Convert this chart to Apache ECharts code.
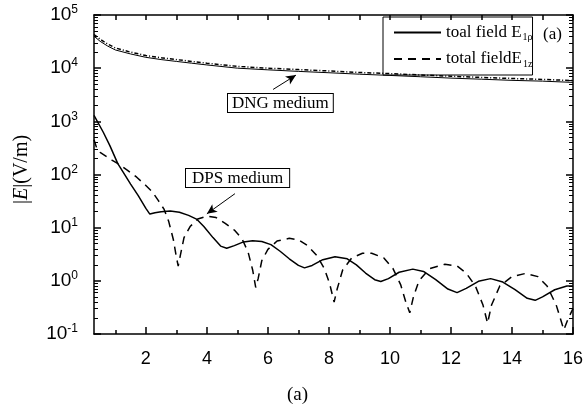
<!DOCTYPE html>
<html>
<head>
<meta charset="utf-8">
<script src="https://cdn.jsdelivr.net/npm/echarts@6/dist/echarts.min.js"></script>
<style>
html,body{margin:0;padding:0;background:#fff;}
#c{width:587px;height:409px;}
</style>
</head>
<body>
<div id="c"></div>
<script>
// ---- data ----
const dpsSolidX = [0.3,0.6,0.82,1.08,1.25,1.5,1.75,2.0,2.13,2.3,2.5,2.8,3.1,3.4,3.66,3.9,4.2,4.45,4.65,4.9,5.2,5.5,5.8,6.1,6.4,6.7,7.0,7.2,7.45,7.8,8.2,8.6,8.9,9.2,9.5,9.7,9.95,10.3,10.75,11.1,11.5,11.9,12.2,12.5,12.9,13.3,13.7,14.1,14.5,14.76,15.0,15.4,15.8,16.0];
const dpsSolidY = [1300,630,350,160,112,66,40,23,18,19,20,20.5,19.5,17,14.5,10.5,6.5,4.5,4.1,4.6,5.4,5.7,5.5,4.8,3.6,2.6,1.95,1.75,1.95,2.5,2.85,2.6,2.0,1.4,1.05,0.97,1.1,1.45,1.66,1.5,1.05,0.7,0.6,0.72,0.98,1.1,0.95,0.68,0.47,0.43,0.5,0.68,0.8,0.8];

const dpsDashX = [0.3,0.4,0.5,0.7,0.9,1.1,1.4,1.7,2.0,2.2,2.4,2.6,2.75,2.9,3.0,3.06,3.13,3.25,3.45,3.7,4.0,4.3,4.6,4.9,5.15,5.35,5.5,5.6,5.68,5.8,6.0,6.3,6.7,7.0,7.3,7.6,7.85,8.02,8.17,8.27,8.45,8.75,9.1,9.4,9.8,10.1,10.35,10.52,10.65,10.77,10.95,11.3,11.8,12.2,12.5,12.8,13.05,13.2,13.33,13.6,14.0,14.45,14.85,15.15,15.45,15.7,15.85,16.0];
const dpsDashY = [450,300,260,220,185,158,120,89,62,48,33,22,13,6,2.8,1.9,3,6.5,10.5,14.5,16.5,15.5,12,9,6.2,3.5,1.6,0.75,1.1,2.4,3.9,5.6,6.3,5.9,4.6,3.0,1.7,0.9,0.4,0.7,1.6,2.7,3.3,3.3,2.7,1.7,0.85,0.4,0.25,0.5,1.0,1.7,2.05,1.9,1.4,0.8,0.35,0.16,0.35,0.8,1.2,1.38,1.2,0.8,0.35,0.12,0.2,0.3];

const dngX = [0.3,0.5,0.75,1.0,1.5,2.0,2.5,3.0,3.5,4.0,5.0,6.0,7.0,8.0,9.0,10.0,11.0,12.0,13.0,14.0,15.0,16.0];
const dngSolidY = [40000,32000,26000,22000,18500,16000,14500,13400,12400,11500,10000,9300,8700,8200,7700,7300,6900,6500,6200,5900,5700,5400];
const dngDashY = [43000,35000,28500,24000,20000,17300,15700,14500,13400,12400,10800,10000,9400,8850,8300,7900,7450,7050,6700,6400,6150,5850];

const xMajorTicks = [2,4,6,8,10,12,14,16];
const xMinorTicks = [1,3,5,7,9,11,13,15];
const xTopTicks = [1,2,3,4,5,6,7,8,9,10,11,12,13,14,15,16];
const yMajorTicks = [0.1,1,10,100,1000,10000,100000];
const yMinorTicks = [];
[-1,0,1,2,3,4].forEach(e => { for (let m = 2; m <= 9; m++) yMinorTicks.push(+(m * Math.pow(10, e)).toPrecision(3)); });

const legendNames = ['toal field E', 'total fieldE'];
const arrowDNG = [[6.17, 3980], [6.92, 7400]];
const arrowDPS = [[4.92, 43.6], [4.0, 18.2]];

const zip = (xs, ys) => xs.map((x, i) => [x, ys[i]]);

const serif = '"Liberation Serif", "DejaVu Serif", serif';
const sans = '"Liberation Sans", Arial, sans-serif';

const chart = echarts.init(document.getElementById('c'), null, {renderer: 'canvas'});

const baseX = {type: 'value', min: 0.3, max: 16, splitLine: {show: false}, axisLabel: {show: false},
  axisLine: {show: false, onZero: false}};
const baseY = {type: 'log', logBase: 10, min: 0.1, max: 100000, splitLine: {show: false}, axisLabel: {show: false},
  axisLine: {show: false, onZero: false}};
const axLine = {show: true, onZero: false, lineStyle: {color: '#000', width: 1.5}};

const option = {
  animation: false,
  backgroundColor: '#fff',
  grid: {left: 94, right: 14, top: 15, bottom: 75, containLabel: false},
  legend: {
    orient: 'vertical', left: 383, top: 17,
    data: legendNames,
    borderColor: '#000', borderWidth: 1, padding: [7, 0, 6, 10],
    itemWidth: 47, itemHeight: 14, itemGap: 8, itemTextGap: 1,
    itemStyle: {opacity: 0, borderWidth: 0},
    textStyle: {
      fontFamily: serif, fontSize: 17, color: '#000',
      rich: {
        m: {fontFamily: serif, fontSize: 17, color: '#000', lineHeight: 20},
        s: {fontFamily: serif, fontSize: 10, color: '#000', verticalAlign: 'bottom', lineHeight: 14, padding: [6, 0, 0, 1]}
      }
    },
    formatter: name => name === legendNames[0] ? '{m|' + name + '}{s|1ρ}' : '{m|' + name + '}{s|1z}'
  },
  xAxis: [
    Object.assign({}, baseX, {position: 'bottom', axisLine: axLine,
      axisTick: {show: true, inside: true, length: 7, customValues: xMajorTicks, lineStyle: {color: '#000', width: 1.5}},
      axisLabel: {show: true, customValues: xMajorTicks, margin: 16, fontFamily: sans, fontSize: 18, color: '#000'}}),
    Object.assign({}, baseX, {position: 'bottom',
      axisTick: {show: true, inside: true, length: 4, customValues: xMinorTicks, lineStyle: {color: '#000', width: 1.5}}}),
    Object.assign({}, baseX, {position: 'top', axisLine: axLine,
      axisTick: {show: true, inside: true, length: 5, customValues: xTopTicks, lineStyle: {color: '#000', width: 1.5}}})
  ],
  yAxis: [
    Object.assign({}, baseY, {position: 'left', axisLine: axLine,
      axisTick: {show: true, inside: true, length: 7, customValues: yMajorTicks, lineStyle: {color: '#000', width: 1.5}},
      axisLabel: {show: true, customValues: yMajorTicks, margin: 16, color: '#000',
        formatter: v => '{b|10}{e|' + Math.round(Math.log10(v)) + '}',
        rich: {b: {fontFamily: sans, fontSize: 19, color: '#000', lineHeight: 22},
               e: {fontFamily: sans, fontSize: 12, color: '#000', verticalAlign: 'top', lineHeight: 22, padding: [0, 0, 8, 0]}}}}),
    Object.assign({}, baseY, {position: 'left',
      axisTick: {show: true, inside: true, length: 4, customValues: yMinorTicks, lineStyle: {color: '#000', width: 1}}}),
    Object.assign({}, baseY, {position: 'right', axisLine: axLine,
      axisTick: {show: true, inside: true, length: 7, customValues: yMajorTicks, lineStyle: {color: '#000', width: 1.5}}}),
    Object.assign({}, baseY, {position: 'right',
      axisTick: {show: true, inside: true, length: 4, customValues: yMinorTicks, lineStyle: {color: '#000', width: 1}}})
  ],
  series: [
    {name: legendNames[0], type: 'line', data: zip(dpsSolidX, dpsSolidY), showSymbol: false, symbol: 'none',
      lineStyle: {color: '#000', width: 1.5, type: 'solid'}, itemStyle: {color: '#000'},
      markLine: {silent: true, symbol: ['none', 'arrow'], symbolSize: [7, 10], label: {show: false},
        lineStyle: {color: '#000', width: 1, type: 'solid'},
        data: [[{coord: arrowDPS[0]}, {coord: arrowDPS[1]}]]}},
    {name: legendNames[1], type: 'line', data: zip(dpsDashX, dpsDashY), showSymbol: false, symbol: 'none',
      lineStyle: {color: '#000', width: 1.5, type: [8, 6]}, itemStyle: {color: '#000'}},
    {name: legendNames[0], type: 'line', data: zip(dngX, dngSolidY), showSymbol: false, symbol: 'none',
      lineStyle: {color: '#000', width: 1, type: 'solid'}, itemStyle: {color: '#000'},
      markLine: {silent: true, symbol: ['none', 'arrow'], symbolSize: [7, 10], label: {show: false},
        lineStyle: {color: '#000', width: 1, type: 'solid'},
        data: [[{coord: arrowDNG[0]}, {coord: arrowDNG[1]}]]}},
    {name: legendNames[1], type: 'line', data: zip(dngX, dngDashY), showSymbol: false, symbol: 'none',
      lineStyle: {color: '#000', width: 1.5, type: [4, 2, 1, 2]}, itemStyle: {color: '#000'}}
  ],
  graphic: [
    {type: 'text', left: 227, top: 93, z: 100,
      style: {text: 'DNG medium', fontFamily: serif, fontSize: 17, fill: '#000', backgroundColor: '#fff',
        borderColor: '#000', borderWidth: 1, padding: [1, 4, 0, 4]}},
    {type: 'text', left: 185, top: 168, z: 100,
      style: {text: 'DPS medium', fontFamily: serif, fontSize: 17, fill: '#000', backgroundColor: '#fff',
        borderColor: '#000', borderWidth: 1, padding: [1, 6, 0, 6]}},
    {type: 'text', left: 543, top: 26, z: 100,
      style: {text: '(a)', fontFamily: serif, fontSize: 17, fill: '#000'}},
    {type: 'text', left: 287, top: 386, z: 100,
      style: {text: '(a)', fontFamily: serif, fontSize: 19, fill: '#000'}},
    {type: 'text', x: 12, y: 204, rotation: Math.PI / 2, z: 100,
      style: {text: '{n||}{i|E}{n||(V/m)}', fontFamily: serif, fontSize: 20, fill: '#000',
        rich: {n: {fontFamily: serif, fontSize: 20, fill: '#000'},
               i: {fontFamily: serif, fontSize: 20, fontStyle: 'italic', fill: '#000'}}}}
  ]
};
chart.setOption(option);
</script>
</body>
</html>
